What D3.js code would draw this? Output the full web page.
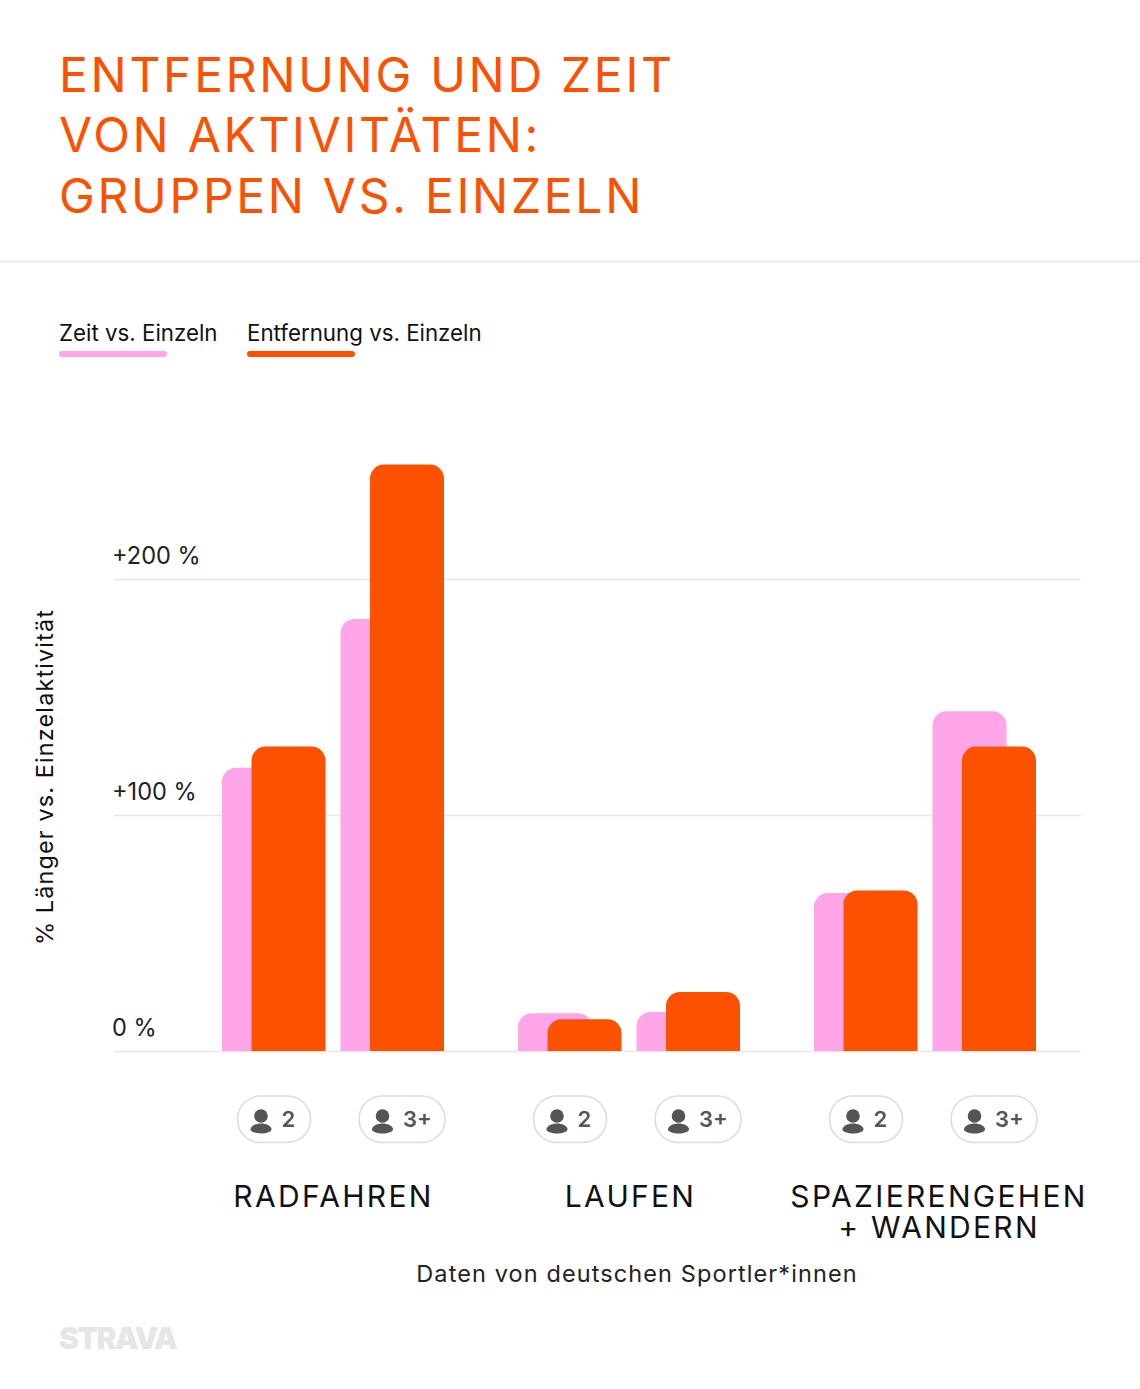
<!DOCTYPE html>
<html>
<head>
<meta charset="utf-8">
<script src="https://cdn.jsdelivr.net/npm/d3@7/dist/d3.min.js"></script>
<style>
  html, body { margin: 0; padding: 0; background: #fff; }
  svg { display: block; font-family: Inter, "Noto Sans", sans-serif; }
</style>
</head>
<body>
<div id="chart"></div>
<script>
var titleLines = ["ENTFERNUNG UND ZEIT", "VON AKTIVITÄTEN:", "GRUPPEN VS. EINZELN"];
var activities = ["RADFAHREN", "LAUFEN", "SPAZIERENGEHEN"];
var activityLabels = [["RADFAHREN"], ["LAUFEN"], ["SPAZIERENGEHEN", "+ WANDERN"]];
var groupSizes = ["2", "3+"];
var seriesNames = ["Zeit vs. Einzeln", "Entfernung vs. Einzeln"];
var timeValues = [120, 183, 16, 16.5, 67, 144];
var distanceValues = [129, 248.5, 13.5, 25, 68, 129];
var yTicks = [0, 100, 200];
var yTickLabels = ["0 %", "+100 %", "+200 %"];

var pink = "#ffa6e8", orange = "#fc5200";
var width = 1140, height = 1389;

var svg = d3.select("#chart").append("svg")
    .attr("width", width)
    .attr("height", height);

// title
svg.append("g").selectAll("text")
    .data(titleLines)
    .enter().append("text")
    .attr("x", 59)
    .attr("y", function(d, i) { return 91.7 + i * 60.5; })
    .attr("fill", orange)
    .attr("font-size", 48)
    .attr("letter-spacing", 2.7)
    .text(function(d) { return d; });

svg.append("line")
    .attr("x1", 0).attr("x2", width)
    .attr("y1", 261.5).attr("y2", 261.5)
    .attr("stroke", "#e8e8e8")
    .attr("stroke-width", 1.5);

// legend
var legendX = [59, 247];
var legend = svg.append("g").selectAll("g")
    .data(seriesNames)
    .enter().append("g")
    .attr("transform", function(d, i) { return "translate(" + legendX[i] + ",0)"; });

legend.append("text")
    .attr("y", 341)
    .attr("font-size", 22.3)
    .attr("fill", "#111")
    .text(function(d) { return d; });

legend.append("rect")
    .attr("y", 351)
    .attr("width", 108)
    .attr("height", 6)
    .attr("rx", 3)
    .attr("fill", function(d, i) { return i === 0 ? pink : orange; });

// scales
var x0 = d3.scaleBand().domain(activities).range([222, 1110]);
var x1 = d3.scalePoint().domain(groupSizes).range([0, 118.5]);
var xSeries = d3.scaleOrdinal().domain(seriesNames).range([0, 29.5]);
var y = d3.scaleLinear().domain([0, 200]).range([1051, 579]);
var barWidth = 74, radius = 14;

// gridlines + tick labels
var axis = d3.axisRight(y)
    .tickValues(yTicks)
    .tickSize(967)
    .tickFormat(function(d, i) { return yTickLabels[i]; });

var yAxis = svg.append("g")
    .attr("transform", "translate(114,0)")
    .call(axis);
yAxis.select(".domain").remove();
yAxis.selectAll("line").attr("stroke", "#e8e8e8").attr("stroke-width", 1.5);
yAxis.selectAll("text")
    .attr("x", -2)
    .attr("dy", -16)
    .attr("font-family", "Inter, sans-serif")
    .attr("font-size", 23.6)
    .attr("fill", "#222");

svg.append("text")
    .attr("transform", "translate(53,777) rotate(-90)")
    .attr("text-anchor", "middle")
    .attr("font-size", 23.5)
    .attr("letter-spacing", 1.1)
    .attr("fill", "#111")
    .text("% Länger vs. Einzelaktivität");

// bars, one row per activity + group size
var rows = [];
activities.forEach(function(a, i) {
  groupSizes.forEach(function(g, j) {
    var k = i * groupSizes.length + j;
    rows.push({ activity: a, size: g, series: seriesNames[0], value: timeValues[k], fill: pink });
    rows.push({ activity: a, size: g, series: seriesNames[1], value: distanceValues[k], fill: orange });
  });
});

function barPath(d) {
  var l = x0(d.activity) + x1(d.size) + xSeries(d.series);
  var r = l + barWidth, t = y(d.value), b = y(0);
  var path = d3.path();
  path.moveTo(l, b);
  path.lineTo(l, t + radius);
  path.arcTo(l, t, l + radius, t, radius);
  path.lineTo(r - radius, t);
  path.arcTo(r, t, r, t + radius, radius);
  path.lineTo(r, b);
  path.closePath();
  return path.toString();
}

svg.append("g").selectAll("path")
    .data(rows)
    .enter().append("path")
    .attr("d", barPath)
    .attr("fill", function(d) { return d.fill; });

// pills under the bars
var pillWidths = { "2": 73, "3+": 86 };
var pillCentre = { "2": 52, "3+": 61.5 };
var pillRows = [];
activities.forEach(function(a) {
  groupSizes.forEach(function(g) { pillRows.push({ activity: a, size: g }); });
});

var pills = svg.append("g").selectAll("g")
    .data(pillRows)
    .enter().append("g")
    .attr("transform", function(d) {
      return "translate(" + (x0(d.activity) + x1(d.size) + pillCentre[d.size] - pillWidths[d.size] / 2) + ",1096)";
    });

pills.append("rect")
    .attr("x", 0).attr("y", 0)
    .attr("width", function(d) { return pillWidths[d.size]; })
    .attr("height", 46.5)
    .attr("rx", 23)
    .attr("fill", "#fff")
    .attr("stroke", "#dcdcdc")
    .attr("stroke-width", 1.5);

pills.append("circle")
    .attr("cx", 23.5).attr("cy", 20).attr("r", 6.8)
    .attr("fill", "#555");

pills.append("path")
    .attr("d", "M13,33.5 C13,29.5 19,27.5 23.5,27.5 C28,27.5 34,29.5 34,33.5 C34,35.5 29,37.5 23.5,37.5 C18,37.5 13,35.5 13,33.5 Z")
    .attr("fill", "#555");

pills.append("text")
    .attr("x", 44)
    .attr("y", 31)
    .attr("font-size", 22)
    .attr("font-weight", 600)
    .attr("fill", "#555")
    .text(function(d) { return d.size; });

// activity names
var labelCentre = [333.5, 630.5, 939];
var labels = svg.append("g").selectAll("text")
    .data(activityLabels)
    .enter().append("text")
    .attr("text-anchor", "middle")
    .attr("font-size", 30)
    .attr("letter-spacing", 2.3)
    .attr("fill", "#111");

labels.selectAll("tspan")
    .data(function(d, i) { return d.map(function(t) { return { t: t, i: i }; }); })
    .enter().append("tspan")
    .attr("x", function(d) { return labelCentre[d.i]; })
    .attr("y", function(d, j) { return 1206.5 + j * 31; })
    .text(function(d) { return d.t; });

svg.append("text")
    .attr("x", 637)
    .attr("y", 1282)
    .attr("text-anchor", "middle")
    .attr("font-size", 23.5)
    .attr("letter-spacing", 1.1)
    .attr("fill", "#222")
    .text("Daten von deutschen Sportler*innen");

svg.append("text")
    .attr("x", 59)
    .attr("y", 1349)
    .attr("font-size", 30)
    .attr("font-weight", 900)
    .attr("letter-spacing", -1.6)
    .attr("fill", "#e6e6e6")
    .text("STRAVA");
</script>
</body>
</html>
